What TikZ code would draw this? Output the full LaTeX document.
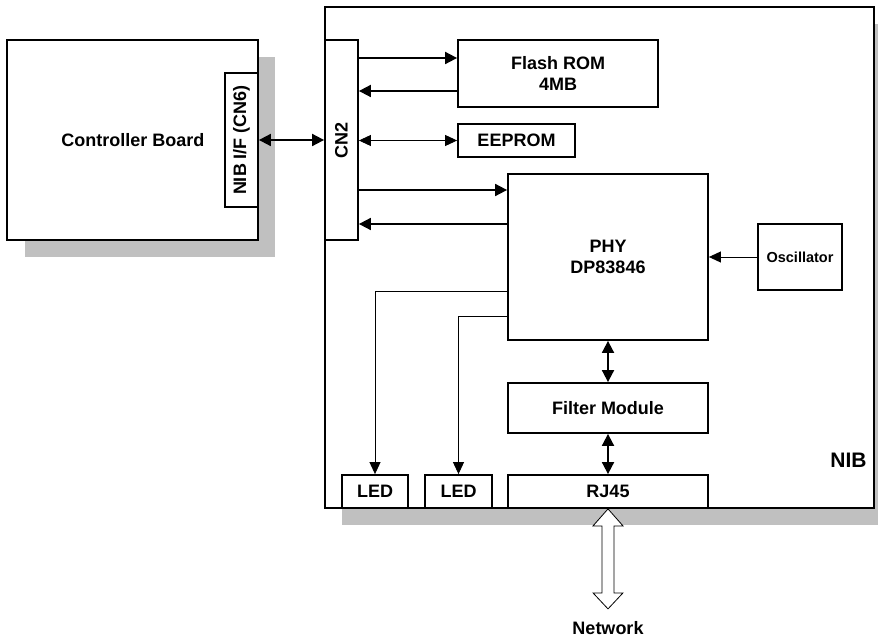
\documentclass[tikz,border=0pt]{standalone}
\usepackage{fontspec}
\setmainfont{Liberation Sans}
\usetikzlibrary{arrows.meta}
\definecolor{shade}{RGB}{192,192,192}
\begin{document}
\begin{tikzpicture}[x=1pt,y=-1pt,
  box/.style={draw, line width=1.8pt, fill=white, inner sep=0pt, align=center,
    font=\bfseries\fontsize{18}{21}\selectfont},
  lbl/.style={inner sep=0pt, font=\bfseries\fontsize{18}{21}\selectfont},
  bus/.style={line width=1.8pt, -{Triangle[length=12pt,width=12pt]}},
  busb/.style={line width=1.8pt, {Triangle[length=12pt,width=12pt]}-{Triangle[length=12pt,width=12pt]}},
  sig/.style={line width=0.9pt, -{Triangle[length=12pt,width=11pt]}},
  sigb/.style={line width=0.9pt, {Triangle[length=12pt,width=11pt]}-{Triangle[length=12pt,width=11pt]}},
  shadow/.style={fill=shade, draw=none}
]
\useasboundingbox (0,0) rectangle (878,639);
% shadows
\fill[shadow] (25,57) rectangle (275,257);
\fill[shadow] (342,24) rectangle (892,525);
% controller board
\node[box, minimum width=251pt, minimum height=200pt] (ctrl) at (132.5,140) {};
\node[lbl] (ctrltext) at (133,140) {Controller Board};
\node[box, minimum width=134pt, minimum height=33pt, rotate=90] (nibif) at (241.5,140) {NIB I/F (CN6)};
% NIB
\node[box, minimum width=549pt, minimum height=501pt] (nib) at (599.5,257.5) {};
\node[lbl, font=\bfseries\fontsize{21}{24}\selectfont] (nibl) at (848.5,460) {NIB};
\node[box, minimum width=33pt, minimum height=200pt] (cn2) at (341.5,140) {};
\node[lbl, rotate=90] (cn2t) at (341.5,140) {CN2};
\node[box, minimum width=200pt, minimum height=67pt] (flash) at (558,73.5) {Flash ROM\\4MB};
\node[box, minimum width=117pt, minimum height=33pt] (eeprom) at (516.5,140.5) {EEPROM};
\node[box, minimum width=200pt, minimum height=166pt] (phy) at (608,257) {PHY\\DP83846};
\node[box, minimum width=84pt, minimum height=66pt, font=\bfseries\fontsize{14.5}{17}\selectfont] (osc) at (800,257) {Oscillator};
\node[box, minimum width=200pt, minimum height=50pt] (filter) at (608,408) {Filter Module};
\node[box, minimum width=200pt, minimum height=33pt] (rj45) at (608,491.5) {RJ45};
\node[box, minimum width=66pt, minimum height=33pt] (led1) at (375,491.5) {LED};
\node[box, minimum width=67pt, minimum height=33pt] (led2) at (458.5,491.5) {LED};
% connectors
\draw[busb] (nibif.south) -- (cn2.west);
\coordinate (f1) at ([yshift=15.5pt]flash.west);
\coordinate (f2) at ([yshift=-17.5pt]flash.west);
\draw[bus] (cn2.east |- f1) -- (f1);
\draw[bus] (f2) -- (cn2.east |- f2);
\draw[sigb] (cn2.east |- eeprom.west) -- (eeprom.west);
\coordinate (p1) at ([yshift=67pt]phy.west);
\coordinate (p2) at ([yshift=33pt]phy.west);
\coordinate (p3) at ([yshift=-34pt]phy.west);
\coordinate (p4) at ([yshift=-59pt]phy.west);
\draw[bus] (cn2.east |- p1) -- (p1);
\draw[bus] (p2) -- (cn2.east |- p2);
\draw[sig] (osc.west) -- (phy.east |- osc.west);
\draw[sig] (p3) -| (led1.north);
\draw[sig] (p4) -| (led2.north);
\draw[busb] (phy.south) -- (filter.north);
\draw[busb] (filter.south) -- (rj45.north);
% network arrow
\draw[line width=0.8pt, fill=white] (rj45.south)
  -- ++(15,17) -- ++(-9,0) -- ++(0,67) -- ++(9,0) -- ++(-15,16)
  -- ++(-15,-16) -- ++(9,0) -- ++(0,-67) -- ++(-9,0) -- cycle;
\node[lbl] (net) at (608,628) {Network};
\end{tikzpicture}
\end{document}
